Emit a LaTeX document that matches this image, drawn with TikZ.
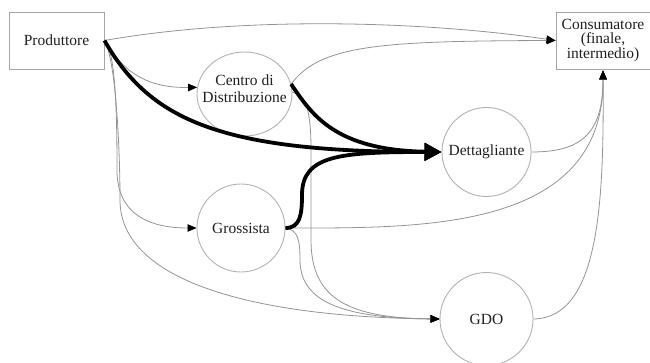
\documentclass[tikz,border=0pt]{standalone}
\usepackage{fontspec}
\setmainfont{Liberation Serif}
\usetikzlibrary{arrows.meta,shapes.geometric}

\begin{document}
\begin{tikzpicture}[x=1pt,y=-1pt,
  txt/.style={font=\fontsize{15.5}{17}\selectfont, text=black!88, align=center},
  box/.style={draw=black!35, line width=0.9pt, rectangle, inner sep=0pt},
  hub/.style={draw=black!30, line width=0.9pt, inner sep=0pt},
  flow/.style={draw=black!42, line width=0.8pt, -{Triangle[length=9pt,width=7.5pt,color=black]}},
  main/.style={draw=black, line width=3.8pt, -{Triangle[length=17pt,width=17pt]}},
]
\useasboundingbox (0,0) rectangle (650,363);

% actors of the supply chain
\node[box, txt, minimum width=95pt, minimum height=57pt] (prod) at (56.5,40.5) {Produttore};
\node[box, minimum width=94pt, minimum height=57pt] (cons) at (603,40.5) {};
\node[txt, font=\fontsize{15.5}{14}\selectfont] (constext) at (603,40.5) {Consumatore\\(finale,\\intermedio)};
\node[hub, ellipse, minimum width=95pt, minimum height=84pt] (cdd) at (244.5,94) {};
\node[txt] (cddtext) at (244.5,88.5) {Centro di\\Distribuzione};
\node[hub, circle, txt, minimum size=88pt] (gros) at (241,228) {Grossista};
\node[hub, circle, txt, minimum size=89pt] (dett) at (486.5,152) {Dettagliante};
\node[hub, circle, txt, minimum size=93pt] (gdo) at (486.5,319) {GDO};

% attachment points
\coordinate (pe) at (prod.east);
\coordinate (cddout) at (cdd.12);
\coordinate (cddin) at (cdd.172);
\coordinate (ge) at (gros.east);
\coordinate (consin) at ([yshift=-1pt]cons.south);

% secondary flows
\draw[flow] (pe) .. controls (250,15) and (430,22) .. (cons.west);
\draw[flow] (cddout) .. controls (320,45) and (380,41) .. (cons.west);
\draw[flow] (pe) .. controls (125,75) and (150,88) .. (cddin);
\draw[flow] (pe) .. controls (116,50) and (117,120) .. (117,170)
  .. controls (117,215) and (150,228) .. (gros.west);
\draw[flow] (pe) .. controls (116,60) and (120,150) .. (120,200)
  .. controls (120,280) and (250,317) .. (gdo.west);
\draw[flow] ([yshift=2pt]cdd.east) .. controls (306,96) and (311,110) .. (311,150)
  -- (311,240) .. controls (311,300) and (350,318) .. (gdo.west);
\draw[flow] (ge) .. controls (298,230) and (300,240) .. (300,260)
  .. controls (300,305) and (350,318) .. (gdo.west);
\draw[flow] (ge) .. controls (420,228) and (604,232) .. (consin);
\draw[flow] (dett.east) .. controls (580,152) and (603,135) .. (consin);
\draw[flow] (gdo.east) .. controls (600,318) and (604,200) .. (consin);

% main flows towards the retailer
\draw[main] (pe) .. controls (150,120) and (220,152) .. (dett.west);
\draw[main] (cddout) .. controls (312,115) and (335,150) .. (dett.west);
\draw[main] (ge) .. controls (300,228) and (302,215) .. (302,195)
  .. controls (302,155) and (340,152) .. (dett.west);
\end{tikzpicture}
\end{document}
